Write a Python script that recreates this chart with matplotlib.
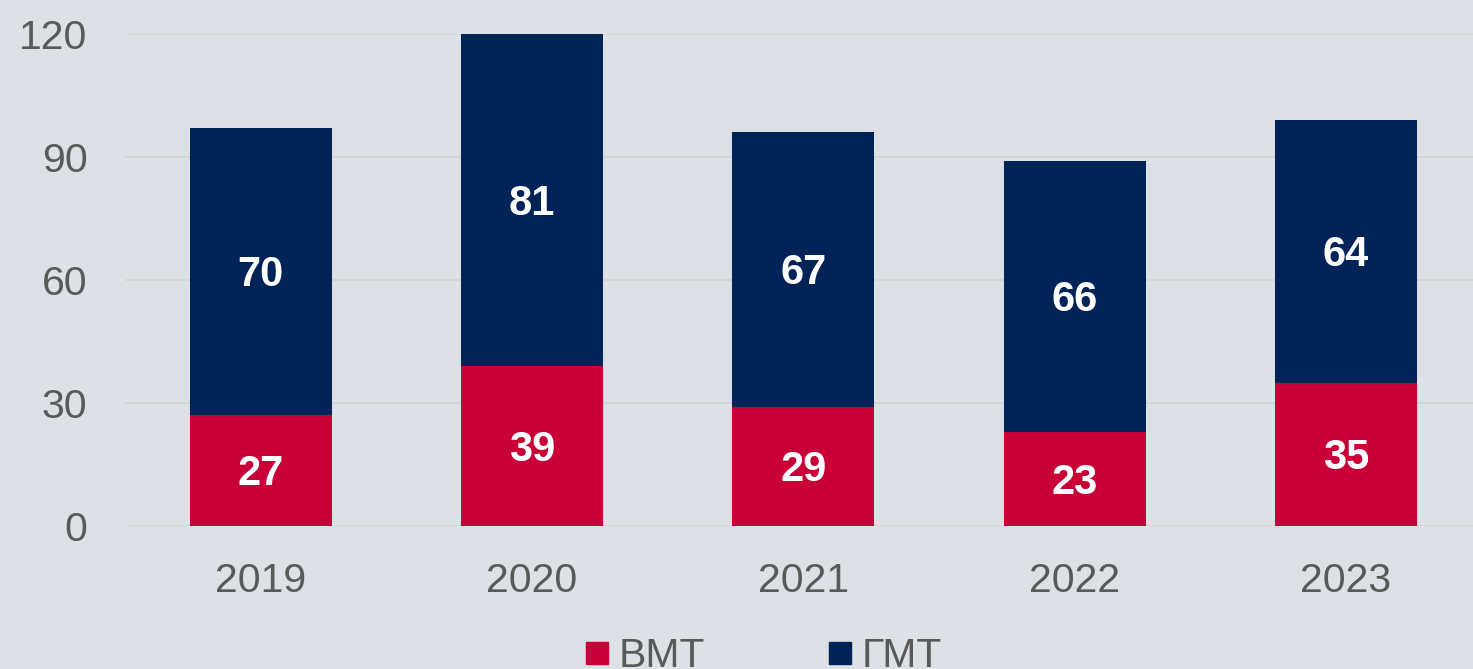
import matplotlib
matplotlib.use("Agg")
import matplotlib.pyplot as plt
from matplotlib.lines import Line2D

years = ["2019", "2020", "2021", "2022", "2023"]
vmt = [27, 39, 29, 23, 35]
gmt = [70, 81, 67, 66, 64]
series_names = ["ВМТ", "ГМТ"]
yticks = [0, 30, 60, 90, 120]

bg = "#DDE0E4"
red = "#C80037"
navy = "#002357"
txt = "#595959"

plt.rcParams['font.family'] = ['Liberation Sans', 'DejaVu Sans']

fig = plt.figure(figsize=(14.73, 6.69), dpi=100, facecolor=bg)
ax = fig.add_axes([125/1473, 1-526/669, 1-125/1473, (526-34)/669], facecolor=bg)

x = list(range(len(years)))
w = 0.523
ax.bar(x, vmt, width=w, color=red, zorder=3)
ax.bar(x, gmt, width=w, bottom=vmt, color=navy, zorder=3)

off = -0.9
for i in x:
    ax.text(i, vmt[i]/2 + off, str(vmt[i]), ha='center', va='center', color='white',
            fontsize=30, fontweight='bold', zorder=4)
    ax.text(i, vmt[i] + gmt[i]/2 + off, str(gmt[i]), ha='center', va='center', color='white',
            fontsize=30, fontweight='bold', zorder=4)

ax.set_xlim(-0.5, 4.468)
ax.set_ylim(0, 120)
ax.set_yticks(yticks)
ax.set_xticks(x)
ax.set_xticklabels(years)
ax.tick_params(axis='both', length=0, labelsize=29.5, labelcolor=txt)
ax.tick_params(axis='y', pad=27)
ax.tick_params(axis='x', pad=26)
ax.grid(axis='y', color='#D2D4D7', linewidth=1.2, zorder=0)
for s in ax.spines.values():
    s.set_visible(False)

handles = [Line2D([], [], marker='s', linestyle='none', markersize=16, color=c)
           for c in (red, navy)]
leg = fig.legend(handles, series_names, loc='center', bbox_to_anchor=(764/1473, 1-656/669),
                 ncol=2, frameon=False, fontsize=29.5, labelcolor=txt,
                 columnspacing=3.0, handletextpad=0.27, handlelength=0.55)

fig.savefig("out.png", dpi=100, facecolor=bg)
